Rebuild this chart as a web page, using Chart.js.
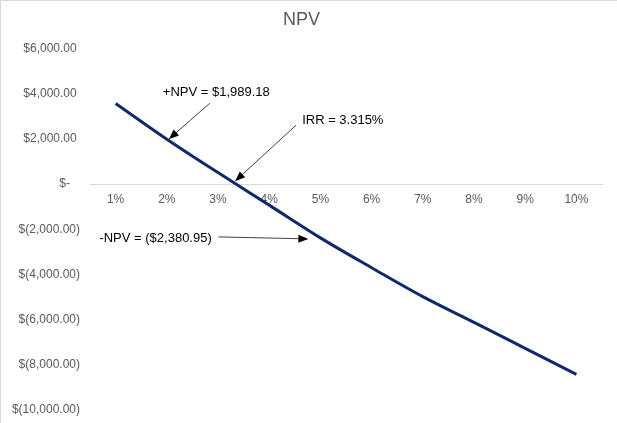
<!DOCTYPE html>
<html lang="en">
<head>
  <meta charset="UTF-8">
  <title>NPV</title>
  <style>
    html, body { margin: 0; padding: 0; background: #fff; }
    #wrap {
      width: 617px; height: 423px; box-sizing: border-box;
      border-top: 1px solid #d9d9d9; border-left: 1px solid #d9d9d9;
    }
  </style>
  <script src="https://cdn.jsdelivr.net/npm/chart.js"></script>
</head>
<body>
<div id="wrap"><canvas id="chart" width="616" height="422"></canvas></div>

<script>
// discount rates and NPV
const rates = ['1%', '2%', '3%', '4%', '5%', '6%', '7%', '8%', '9%', '10%'];
const npv = [3570, 1989.18, 510, -930, -2380.95, -3700, -4980, -6120, -7270, -8420];
const yTicks = [6000, 4000, 2000, 0, -2000, -4000, -6000, -8000, -10000];
const irr = 3.315;

function money(v) {
  if (v === 0) return '$-   ';
  const s = Math.abs(v).toLocaleString('en-US', { minimumFractionDigits: 2, maximumFractionDigits: 2 });
  return v < 0 ? '$(' + s + ')' : '$' + s + ' ';
}

function arrow(ctx, x1, y1, x2, y2) {
  const a = Math.atan2(y2 - y1, x2 - x1);
  ctx.beginPath();
  ctx.moveTo(x1, y1);
  ctx.lineTo(x2 - 8 * Math.cos(a), y2 - 8 * Math.sin(a));
  ctx.stroke();
  ctx.beginPath();
  ctx.moveTo(x2, y2);
  ctx.lineTo(x2 - 10 * Math.cos(a) + 4 * Math.sin(a), y2 - 10 * Math.sin(a) - 4 * Math.cos(a));
  ctx.lineTo(x2 - 10 * Math.cos(a) - 4 * Math.sin(a), y2 - 10 * Math.sin(a) + 4 * Math.cos(a));
  ctx.closePath();
  ctx.fill();
}

const notes = {
  id: 'notes',
  afterDraw(chart) {
    const ctx = chart.ctx, x = chart.scales.x, y = chart.scales.y;
    ctx.save();
    ctx.strokeStyle = '#404040';
    ctx.fillStyle = '#000';
    ctx.lineWidth = 1;
    ctx.font = '13px "Liberation Sans", Arial, sans-serif';
    ctx.textBaseline = 'middle';

    // +NPV at 2%
    const px = x.getPixelForValue(1), py = y.getPixelForValue(npv[1]);
    arrow(ctx, px + 43, py - 36, px + 2, py);
    ctx.fillText('+NPV = $1,989.18', px - 4, py - 47);

    // IRR crossing
    const x3 = x.getPixelForValue(2), x4 = x.getPixelForValue(3);
    const ix = x3 + (irr - 3) * (x4 - x3), iy = y.getPixelForValue(0);
    arrow(ctx, ix + 62, iy - 59, ix + 1, iy - 3);
    ctx.fillText('IRR = ' + irr + '%', ix + 68, iy - 64);

    // -NPV at 5%
    const nx = x.getPixelForValue(4), ny = y.getPixelForValue(npv[4]);
    arrow(ctx, nx - 102, ny - 1, nx - 12, ny + 1);
    ctx.fillText('-NPV = ($2,380.95)', nx - 221, ny + 1);
    ctx.restore();
  }
};

new Chart(document.getElementById('chart'), {
  type: 'line',
  data: {
    labels: rates,
    datasets: [{
      label: 'NPV',
      data: npv,
      borderColor: '#0e2a6b',
      borderWidth: 3,
      pointRadius: 0,
      cubicInterpolationMode: 'monotone',
      fill: false
    }]
  },
  options: {
    responsive: false,
    animation: false,
    layout: { padding: { top: 0, right: 15, bottom: 13, left: 0 } },
    plugins: {
      legend: { display: false },
      tooltip: { enabled: false },
      title: {
        display: true,
        text: 'NPV',
        color: '#595959',
        font: { family: '"Liberation Sans", Arial, sans-serif', size: 18, weight: 'normal' },
        padding: { top: 8, bottom: 18 }
      }
    },
    scales: {
      x: {
        position: { y: 0 },
        offset: true,
        afterFit(s) { s.height = 0; },
        grid: { display: false, drawTicks: false },
        border: { display: true, color: '#d9d9d9', width: 1 },
        ticks: {
          color: '#595959',
          padding: 8,
          maxRotation: 0,
          font: { family: '"Liberation Sans", Arial, sans-serif', size: 12 }
        }
      },
      y: {
        min: -10000,
        max: 6000,
        afterBuildTicks(s) { s.ticks = yTicks.map(v => ({ value: v })); },
        afterFit(s) { s.width = 89; s.paddingBottom = 0; },
        grid: { display: false, drawTicks: false },
        border: { display: false },
        ticks: {
          color: '#595959',
          padding: 10,
          font: { family: '"Liberation Sans", Arial, sans-serif', size: 12 },
          callback: v => money(v)
        }
      }
    }
  },
  plugins: [notes]
});
</script>
</body>
</html>
